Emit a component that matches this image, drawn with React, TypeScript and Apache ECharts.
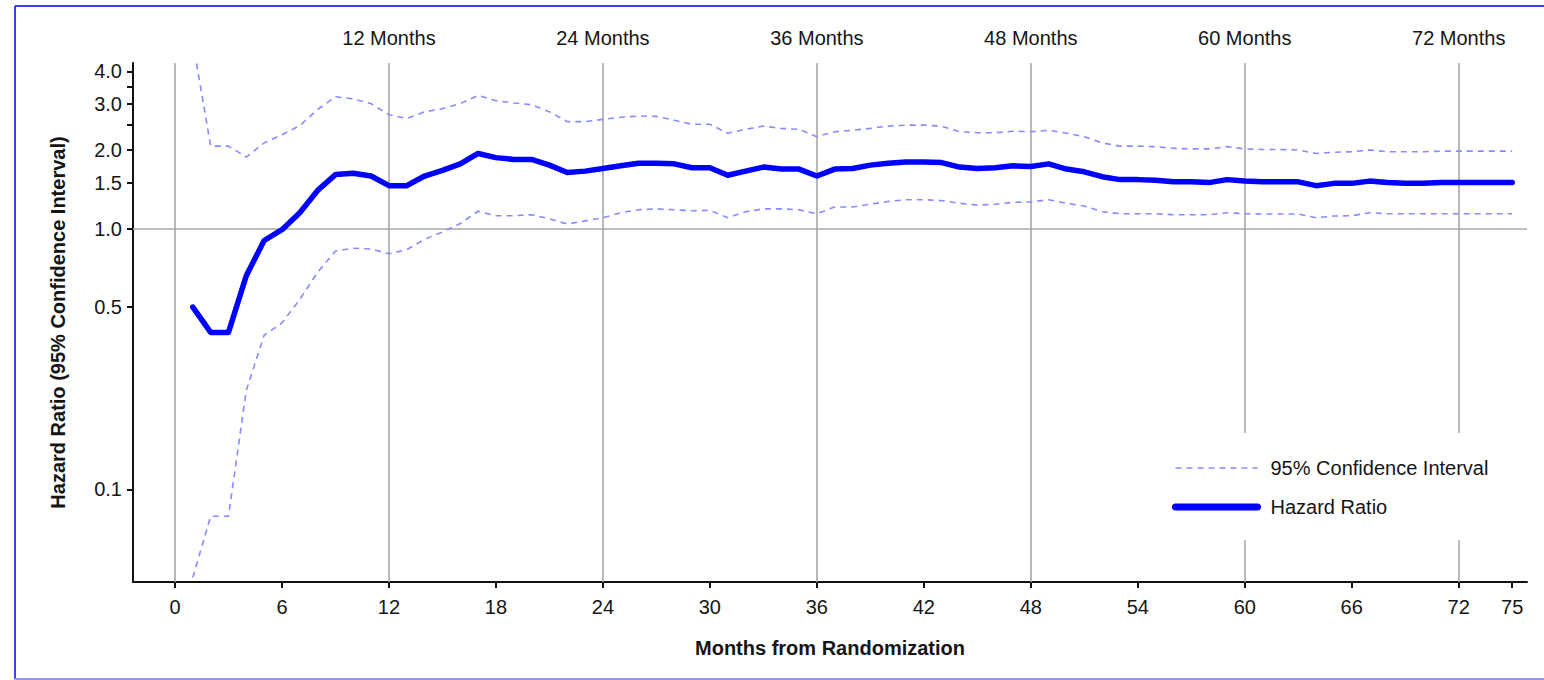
import React, { useEffect, useRef } from "react";
import * as echarts from "echarts";

// Months 1..75 (index + 1)
const hazardRatio = [
  0.5, 0.4, 0.4, 0.66, 0.9, 0.99, 1.15, 1.4, 1.61, 1.63,
  1.59, 1.46, 1.46, 1.59, 1.67, 1.77, 1.94, 1.87, 1.84, 1.84,
  1.75, 1.64, 1.66, 1.7, 1.74, 1.78, 1.78, 1.77, 1.71, 1.71,
  1.6, 1.66, 1.72, 1.69, 1.69, 1.59, 1.69, 1.7, 1.75, 1.78,
  1.8, 1.8, 1.79, 1.72, 1.7, 1.71, 1.74, 1.73, 1.77, 1.69,
  1.65, 1.58, 1.54, 1.54, 1.53, 1.51, 1.51, 1.5, 1.54, 1.52,
  1.51, 1.51, 1.51, 1.46, 1.49, 1.49, 1.52, 1.5, 1.49, 1.49,
  1.5, 1.5, 1.5, 1.5, 1.5,
];
const upperCI = [
  5.2, 2.07, 2.07, 1.88, 2.13, 2.29, 2.48, 2.86, 3.2, 3.14,
  3.01, 2.73, 2.64, 2.8, 2.88, 3.01, 3.24, 3.09, 3.03, 2.98,
  2.8, 2.57, 2.57, 2.62, 2.67, 2.7, 2.69, 2.6, 2.51, 2.51,
  2.32, 2.4, 2.47, 2.42, 2.4, 2.25, 2.35, 2.38, 2.42, 2.47,
  2.49, 2.49, 2.47, 2.35, 2.33, 2.33, 2.36, 2.35, 2.38, 2.32,
  2.25, 2.13, 2.07, 2.07, 2.06, 2.03, 2.02, 2.02, 2.06, 2.02,
  2.01, 2.01, 2.0, 1.94, 1.96, 1.97, 2.0, 1.97, 1.97, 1.97,
  1.98, 1.98, 1.98, 1.98, 1.98,
];
const lowerCI = [
  0.046, 0.079, 0.079, 0.24, 0.39, 0.435, 0.535, 0.68, 0.82, 0.84,
  0.835, 0.8, 0.83, 0.91, 0.97, 1.045, 1.165, 1.12, 1.12, 1.13,
  1.09, 1.04, 1.07, 1.1, 1.15, 1.18, 1.19, 1.18, 1.17, 1.175,
  1.1, 1.16, 1.19, 1.19, 1.18, 1.14, 1.21, 1.21, 1.24, 1.27,
  1.29, 1.29, 1.28, 1.25, 1.23, 1.24, 1.26, 1.265, 1.29, 1.25,
  1.22, 1.16, 1.14, 1.14, 1.14, 1.13, 1.13, 1.13, 1.15, 1.14,
  1.137, 1.137, 1.137, 1.1, 1.117, 1.12, 1.15, 1.14, 1.14, 1.14,
  1.14, 1.14, 1.14, 1.14, 1.14,
];
const firstMonth = 1;

const xTicks = [0, 6, 12, 18, 24, 30, 36, 42, 48, 54, 60, 66, 72, 75];
const gridMonths = [0, 12, 24, 36, 48, 60, 72];
const yLabelTicks = [0.1, 0.5, 1.0, 1.5, 2.0, 3.0, 4.0];
const yMinorTicks = [2.5, 3.5];
const referenceLine = 1.0;

const CI_NAME = "95% Confidence Interval";
const HR_NAME = "Hazard Ratio";
const FONT = "'Liberation Sans', Arial, Helvetica, sans-serif";
const TEXT = "#151515";
const FS = 20;

function toPoints(values: number[]) {
  return values.map((v, i) => [i + firstMonth, v]);
}

export default function App() {
  const ref = useRef<HTMLDivElement>(null);
  useEffect(() => {
    if (!ref.current) return;
    const chart = echarts.init(ref.current, null, { renderer: "svg" });
    const ciStyle = { color: "#8a8aff", width: 1.6, type: [6, 5] as any };
    const option: any = {
      animation: false,
      backgroundColor: "#ffffff",
      textStyle: { fontFamily: FONT },
      grid: { left: 133, top: 63, right: 17, bottom: 98, outerBoundsMode: "none" },
      legend: {
        orient: "vertical",
        left: 1160,
        top: 433,
        padding: [25, 10, 23, 12],
        backgroundColor: "#ffffff",
        itemWidth: 82,
        itemHeight: 20,
        itemGap: 19,
        selectedMode: false,
        textStyle: { fontSize: FS, color: TEXT, fontFamily: FONT, padding: [0, 0, 0, 8] },
        data: [
          {
            name: CI_NAME,
            lineStyle: { width: 1.6, type: [6, 5], color: "#8a8aff" },
            itemStyle: { opacity: 0 },
          },
          {
            name: HR_NAME,
            lineStyle: { width: 7, color: "#0000ff" },
            itemStyle: { opacity: 0 },
          },
        ],
      },
      xAxis: {
        type: "value",
        min: -2.355,
        max: 75.83,
        name: "Months from Randomization",
        nameLocation: "middle",
        nameGap: 56,
        nameTextStyle: { fontWeight: "bold", fontSize: FS, color: TEXT, fontFamily: FONT },
        axisLine: { onZero: false, lineStyle: { color: "#111", width: 2 } },
        axisTick: { customValues: xTicks, length: 6, lineStyle: { color: "#111", width: 2 } },
        axisLabel: { customValues: xTicks, margin: 15, fontSize: FS, color: TEXT, fontFamily: FONT },
        splitLine: { show: false },
      },
      yAxis: {
        type: "log",
        logBase: 10,
        min: 0.0442,
        max: 4.31,
        name: "Hazard Ratio (95% Confidence Interval)",
        nameLocation: "middle",
        nameGap: 65,
        nameTextStyle: { fontWeight: "bold", fontSize: FS, color: TEXT, fontFamily: FONT },
        axisLine: { show: true, onZero: false, lineStyle: { color: "#111", width: 2 } },
        axisTick: {
          show: true,
          customValues: [...yLabelTicks, ...yMinorTicks],
          length: 6,
          lineStyle: { color: "#111", width: 2 },
        },
        axisLabel: {
          customValues: yLabelTicks,
          margin: 11,
          fontSize: FS,
          color: TEXT,
          fontFamily: FONT,
          formatter: (v: number) => Number(v).toFixed(1),
        },
        splitLine: { show: false },
        minorTick: { show: false },
        minorSplitLine: { show: false },
      },
      series: [
        {
          name: "grid",
          type: "line",
          data: [],
          silent: true,
          z: 1,
          markLine: {
            silent: true,
            z: 1,
            symbol: "none",
            animation: false,
            lineStyle: { color: "#a8a8a8", width: 1.6, type: "solid" },
            emphasis: { disabled: true },
            data: [
              ...gridMonths.map((m) => ({
                xAxis: m,
                label: {
                  show: m !== 0,
                  position: "end",
                  distance: 15,
                  formatter: `${m} Months`,
                  fontSize: FS,
                  color: TEXT,
                  fontFamily: FONT,
                },
              })),
              { yAxis: referenceLine, label: { show: false } },
            ],
          },
        },
        {
          name: CI_NAME,
          type: "line",
          data: toPoints(upperCI),
          symbol: "none",
          z: 3,
          lineStyle: ciStyle,
          itemStyle: { color: "#8a8aff" },
        },
        {
          name: CI_NAME,
          type: "line",
          data: toPoints(lowerCI),
          symbol: "none",
          z: 3,
          lineStyle: ciStyle,
          itemStyle: { color: "#8a8aff" },
        },
        {
          name: HR_NAME,
          type: "line",
          data: toPoints(hazardRatio),
          symbol: "none",
          z: 4,
          lineStyle: { color: "#0000ff", width: 5.5, join: "round", cap: "round" },
          itemStyle: { color: "#0000ff" },
        },
      ],
      graphic: [
        { type: "line", silent: true, shape: { x1: 15, y1: 6, x2: 1544, y2: 6 }, style: { stroke: "#3d3dfb", lineWidth: 2 } },
        { type: "line", silent: true, shape: { x1: 15, y1: 6, x2: 15, y2: 679 }, style: { stroke: "#3d3dfb", lineWidth: 2 } },
        { type: "line", silent: true, shape: { x1: 15, y1: 679, x2: 1544, y2: 679 }, style: { stroke: "#9898ea", lineWidth: 2 } },
      ],
    };
    chart.setOption(option);
    return () => chart.dispose();
  }, []);
  return (
    <div
      ref={ref}
      style={{ position: "fixed", left: 0, top: 0, width: 1544, height: 680, background: "#fff" }}
    />
  );
}
